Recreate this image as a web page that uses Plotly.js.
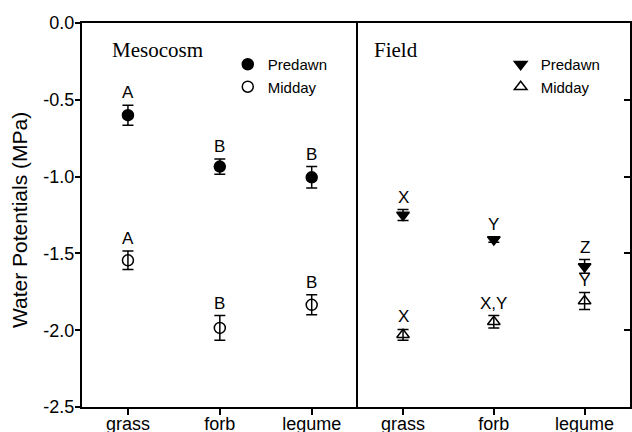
<!DOCTYPE html>
<html><head><meta charset="utf-8">
<script src="https://cdn.plot.ly/plotly-3.0.1.min.js"></script>
<style>html,body{margin:0;padding:0;background:#fff}</style>
</head><body><div id="chart" style="width:632px;height:432px"></div>
<script>
const categories = ['grass', 'forb', 'legume'];
const mesoPredawn = [-0.60, -0.935, -1.005];
const mesoPredawnSE = [0.065, 0.05, 0.07];
const mesoMidday = [-1.545, -1.985, -1.835];
const mesoMiddaySE = [0.06, 0.08, 0.065];
const fieldPredawn = [-1.25, -1.41, -1.585];
const fieldPredawnSE = [0.035, 0.018, 0.045];
const fieldMidday = [-2.03, -1.945, -1.81];
const fieldMiddaySE = [0.035, 0.04, 0.055];
const mesoPredawnLetters = ['A', 'B', 'B'];
const mesoMiddayLetters = ['A', 'B', 'B'];
const fieldPredawnLetters = ['X', 'Y', 'Z'];
const fieldMiddayLetters = ['X', 'X,Y', 'Y'];
const yTickVals = [0, -0.5, -1, -1.5, -2, -2.5];
const yTickText = ['0.0', '-0.5', '-1.0', '-1.5', '-2.0', '-2.5'];
const panelTitles = ['Mesocosm', 'Field'];
const seriesNames = ['Predawn', 'Midday'];
const yTitle = 'Water Potentials (MPa)';

const SANS = 'Liberation Sans, Arial, sans-serif';
const SERIF = 'Liberation Serif, Times New Roman, serif';

function errY(se) {
  return {type: 'data', array: se, visible: true, color: '#000', thickness: 1.5, width: 5.5};
}
function trace(y, se, xa, ya, symbol, name, legend) {
  return {
    x: categories, y: y, xaxis: xa, yaxis: ya, type: 'scatter', mode: 'markers',
    name: name, legend: legend,
    marker: {symbol: symbol, size: 11, color: '#000', line: {color: '#000', width: 1.5}},
    error_y: errY(se)
  };
}
const data = [
  trace(mesoPredawn, mesoPredawnSE, 'x', 'y', 'circle', seriesNames[0], 'legend'),
  trace(mesoMidday, mesoMiddaySE, 'x', 'y', 'circle-open', seriesNames[1], 'legend'),
  trace(fieldPredawn, fieldPredawnSE, 'x2', 'y2', 'triangle-down', seriesNames[0], 'legend2'),
  trace(fieldMidday, fieldMiddaySE, 'x2', 'y2', 'triangle-up-open', seriesNames[1], 'legend2')
];

const annotations = [];
function letters(vals, se, labels, xref, yref) {
  labels.forEach((t, i) => {
    annotations.push({
      x: categories[i], y: vals[i] + se[i], xref: xref, yref: yref, text: t,
      showarrow: false, yanchor: 'bottom', yshift: 1,
      font: {family: SANS, size: 17, color: '#000'}
    });
  });
}
letters(mesoPredawn, mesoPredawnSE, mesoPredawnLetters, 'x', 'y');
letters(mesoMidday, mesoMiddaySE, mesoMiddayLetters, 'x', 'y');
letters(fieldPredawn, fieldPredawnSE, fieldPredawnLetters, 'x2', 'y2');
letters(fieldMidday, fieldMiddaySE, fieldMiddayLetters, 'x2', 'y2');
annotations.push({xref: 'paper', yref: 'paper', x: 0.052, y: 0.93, xanchor: 'left', yanchor: 'middle',
  text: panelTitles[0], showarrow: false, font: {family: SERIF, size: 21, color: '#000'}});
annotations.push({xref: 'paper', yref: 'paper', x: 0.530, y: 0.93, xanchor: 'left', yanchor: 'middle',
  text: panelTitles[1], showarrow: false, font: {family: SERIF, size: 21, color: '#000'}});
annotations.push({xref: 'paper', yref: 'paper', x: -0.113, y: 0.487, xanchor: 'center', yanchor: 'middle',
  textangle: -90, text: yTitle, showarrow: false, font: {family: SANS, size: 21, color: '#000'}});

const xbase = {
  type: 'category', range: [-0.5, 2.5], showline: true, mirror: true, linecolor: '#000', linewidth: 2,
  ticks: 'outside', ticklen: 6, tickwidth: 2, tickcolor: '#000', showgrid: false, zeroline: false,
  ticklabelstandoff: -7,
  tickfont: {family: SANS, size: 18, color: '#000'}, fixedrange: true
};
const ybase = {
  range: [-2.5, 0], tickvals: yTickVals, ticktext: yTickText, showline: true,
  linecolor: '#000', linewidth: 2, tickwidth: 2, tickcolor: '#000', showgrid: false, zeroline: false,
  tickfont: {family: SANS, size: 18, color: '#000'}, fixedrange: true
};
const legbase = {
  font: {family: SANS, size: 15, color: '#000'}, bgcolor: 'rgba(0,0,0,0)', borderwidth: 0,
  xanchor: 'left', yanchor: 'top', tracegroupgap: 0, itemwidth: 30
};

const layout = {
  width: 632, height: 432,
  margin: {l: 82, r: 2, t: 23, b: 25},
  paper_bgcolor: '#fff', plot_bgcolor: '#fff',
  showlegend: true,
  xaxis: Object.assign({}, xbase, {domain: [0, 0.503], anchor: 'y'}),
  xaxis2: Object.assign({}, xbase, {domain: [0.503, 1], anchor: 'y2'}),
  yaxis: Object.assign({}, ybase, {anchor: 'x', mirror: false, ticks: 'outside', ticklen: 5, ticklabelstandoff: -3}),
  yaxis2: Object.assign({}, ybase, {anchor: 'x2', side: 'right', mirror: true, ticks: 'inside', ticklen: 6, showticklabels: false}),
  legend: Object.assign({}, legbase, {x: 0.266, y: 0.935}),
  legend2: Object.assign({}, legbase, {x: 0.764, y: 0.935}),
  annotations: annotations
};

Plotly.newPlot('chart', data, layout, {displayModeBar: false, staticPlot: true});
</script></body></html>
